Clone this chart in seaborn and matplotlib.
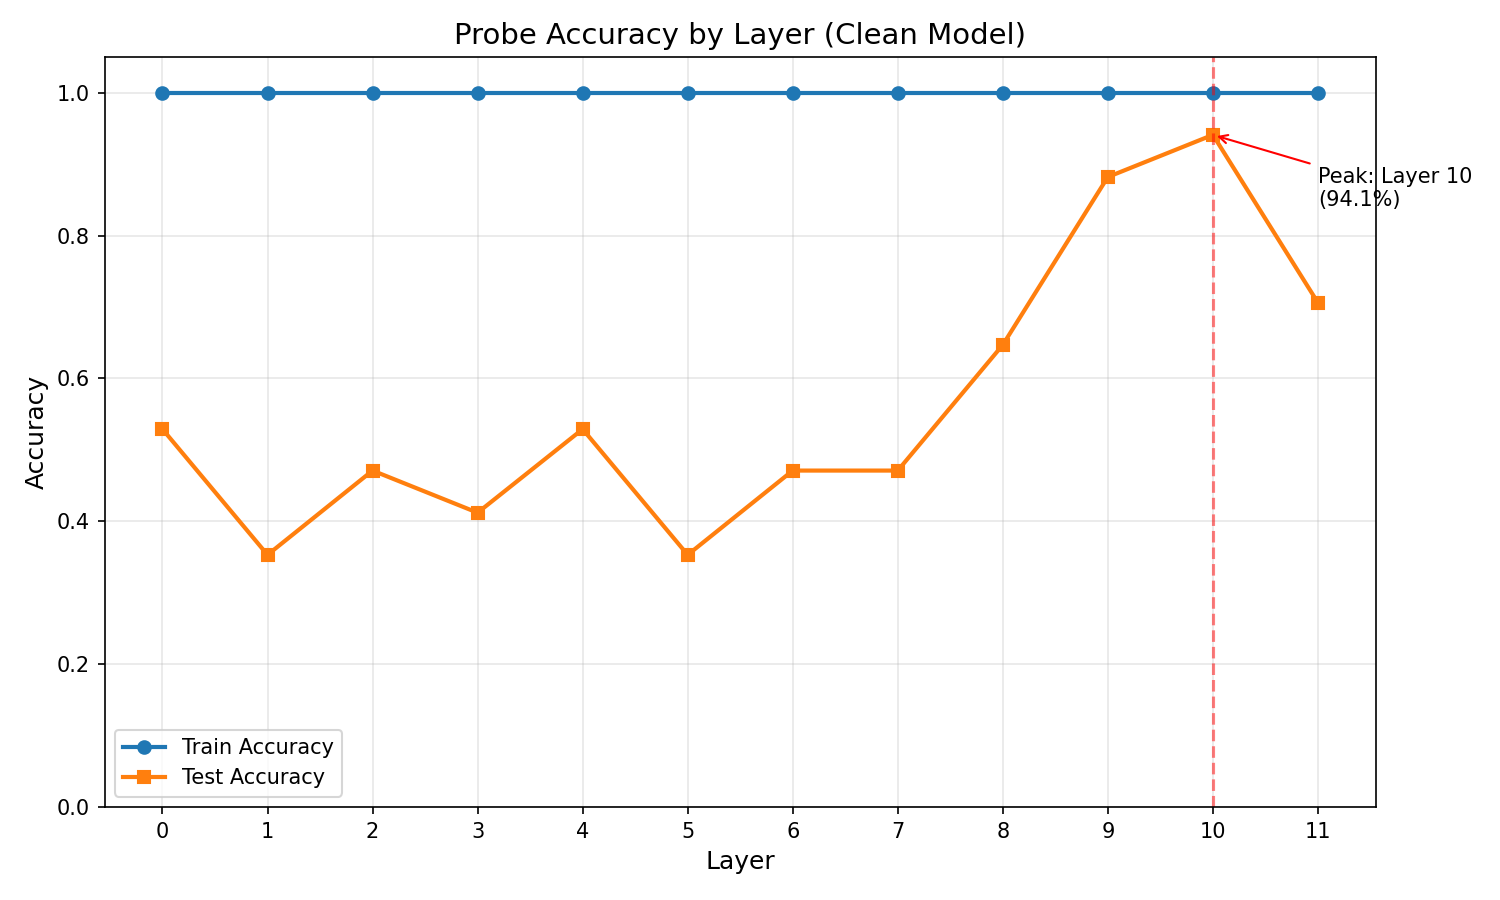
import matplotlib
matplotlib.use("Agg")
import matplotlib.pyplot as plt
import seaborn as sns

layers = list(range(12))
train_acc = [1.0] * 12
test_acc = [0.529, 0.353, 0.471, 0.412, 0.529, 0.353, 0.471, 0.471, 0.647, 0.882, 0.941, 0.706]
peak_layer = 10
peak_acc = 0.941

fig, ax = plt.subplots(figsize=(10, 6), dpi=150)
sns.lineplot(x=layers, y=train_acc, ax=ax, marker='o', markersize=6, linewidth=2,
             color='#1f77b4', label='Train Accuracy', markeredgewidth=1, markeredgecolor='#1f77b4')
sns.lineplot(x=layers, y=test_acc, ax=ax, marker='s', markersize=6, linewidth=2,
             color='#ff7f0e', label='Test Accuracy', markeredgewidth=1, markeredgecolor='#ff7f0e')
ax.axvline(peak_layer, color='red', linestyle='--', alpha=0.5, linewidth=1.5)
ax.annotate(f'Peak: Layer {peak_layer}\n({peak_acc*100:.1f}%)',
            xy=(peak_layer, peak_acc), xytext=(peak_layer + 1, peak_acc - 0.1),
            arrowprops=dict(arrowstyle='->', color='red'), fontsize=10)
ax.set_xlabel('Layer', fontsize=12)
ax.set_ylabel('Accuracy', fontsize=12)
ax.set_title('Probe Accuracy by Layer (Clean Model)', fontsize=14)
ax.set_xticks(layers)
ax.set_ylim(0, 1.05)
ax.grid(True, alpha=0.3)
ax.legend(loc='lower left')
fig.subplots_adjust(left=104.7/1500, right=1375.7/1500, bottom=93/900, top=1-57/900)
fig.savefig('out.png')
